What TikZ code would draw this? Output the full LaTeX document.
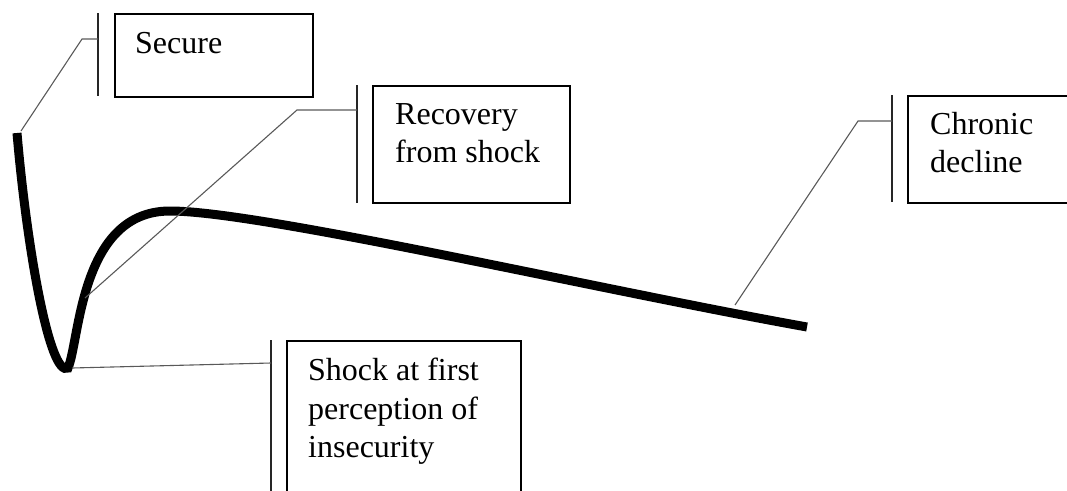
\documentclass[tikz,border=0pt]{standalone}
\usepackage{fontspec}
\setmainfont{Liberation Serif}
\begin{document}
\begin{tikzpicture}[x=1pt,y=-1pt,
  box/.style={draw=black,line width=1.6pt,rectangle,inner sep=0pt,anchor=north west},
  lbl/.style={anchor=north west,inner sep=0pt,align=left,font=\fontsize{32}{38.5}\selectfont},
  bar/.style={draw=black!85,line width=1.6pt},
  callout/.style={draw=black!65,line width=1.1pt},
  curve/.style={draw=black,line width=9pt}]
\useasboundingbox (0,0) rectangle (1067,490);
% curve
\draw[curve] (17,133) .. controls (27,250) and (50,378) .. (68,368)
  .. controls (80,340) and (80,211) .. (170,211)
  .. controls (260,211) and (600,290) .. (807,327);
% points on the curve
\coordinate (cSecure) at (21,131);
\coordinate (cRecov) at (85,298);
\coordinate (cChron) at (735,305);
\coordinate (cShock) at (72,368);
% boxes
\node[box,minimum width=198pt,minimum height=83pt] (bSecure) at (114,13) {};
\node[box,minimum width=197pt,minimum height=117pt] (bRecov) at (372,85) {};
\node[box,minimum width=180pt,minimum height=107pt] (bChron) at (907,95) {};
\node[box,minimum width=234pt,minimum height=170pt] (bShock) at (286,340) {};
% labels
\node[lbl] (tSecure) at (135,32) {Secure};
\node[lbl] (tRecov) at (395,103) {Recovery\\from shock};
\node[lbl] (tChron) at (930,112) {Chronic\\decline};
\node[lbl] (tShock) at (308,358) {Shock at first\\perception of\\insecurity};
% bars
\coordinate (sTop) at (98,13); \coordinate (sBot) at (98,96);
\coordinate (rTop) at (357,85); \coordinate (rBot) at (357,203);
\coordinate (kTop) at (892,95); \coordinate (kBot) at (892,202);
\coordinate (hTop) at (271,340); \coordinate (hBot) at (271,500);
\draw[bar] (sTop) -- (sBot);
\draw[bar] (rTop) -- (rBot);
\draw[bar] (kTop) -- (kBot);
\draw[bar] (hTop) -- (hBot);
% callout lines
\coordinate (sMid) at (98,39);
\coordinate (rMid) at (357,110);
\coordinate (kMid) at (892,121);
\coordinate (hMid) at (271,363);
\draw[callout] (cSecure) -- (82,39) -- (sMid);
\draw[callout] (cRecov) -- (297,110) -- (rMid);
\draw[callout] (cChron) -- (858,121) -- (kMid);
\draw[callout] (cShock) -- (hMid);
\end{tikzpicture}
\end{document}
